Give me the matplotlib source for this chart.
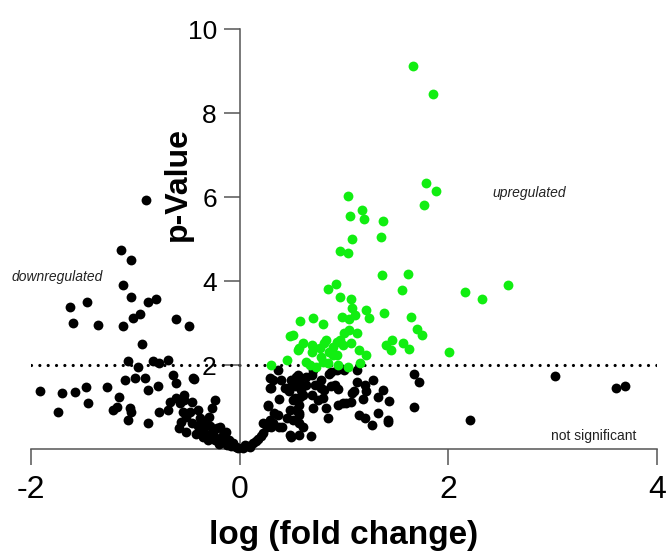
import matplotlib
matplotlib.use('Agg')
import matplotlib.pyplot as plt

plt.rcParams['font.family'] = ['Liberation Sans', 'DejaVu Sans']

# significant, up (green)
up_x = [1.66, 1.85, 1.79, 1.88, 1.77, 2.16, 2.32, 2.57, 2.01,
        1.04, 1.06, 1.17, 1.19, 1.37, 1.35, 1.08, 0.96, 1.04, 1.36, 1.61, 1.56,
        0.92, 0.85, 0.96, 1.07, 1.08, 1.11, 0.98, 1.05, 1.21, 1.24, 1.38, 1.64,
        1.70, 1.75, 0.58, 0.70, 0.80, 0.51, 0.48, 0.61, 0.70, 0.81, 0.96, 1.00,
        1.05, 1.12, 0.99, 1.07, 0.86, 0.93, 0.78, 0.56, 0.45, 1.14, 1.21, 1.40,
        1.46, 1.45, 1.57, 1.62, 0.30,
        0.64, 0.67, 0.73, 0.80, 0.85, 0.94, 1.04, 1.15, 0.89, 0.69, 0.77,
        0.89, 0.93, 0.83, 0.57, 0.69]
up_y = [9.11, 8.46, 6.33, 6.15, 5.80, 3.75, 3.58, 3.91, 2.30,
        6.03, 5.54, 5.68, 5.48, 5.44, 5.05, 5.01, 4.72, 4.66, 4.14, 4.16, 3.79,
        3.93, 3.81, 3.62, 3.57, 3.35, 3.19, 3.15, 3.09, 3.30, 3.11, 3.23, 3.14,
        2.85, 2.72, 3.06, 3.11, 2.97, 2.72, 2.68, 2.53, 2.44, 2.52, 2.60, 2.76,
        2.84, 2.76, 2.48, 2.53, 2.32, 2.24, 2.20, 2.36, 2.12, 2.36, 2.24, 2.48,
        2.60, 2.36, 2.52, 2.37, 2.00,
        2.08, 2.00, 1.96, 2.08, 2.04, 2.00, 1.96, 2.04, 2.24, 2.48, 2.40,
        2.44, 2.55, 2.60, 2.40, 2.30]

# down-regulated side and not significant (black)
other_x = [-0.90, -1.14, -1.04, -1.12, -1.04, -0.88, -0.80, -1.63, -1.46, -1.60,
           -1.36, -1.12, -1.02, -0.96, -0.61, -0.49, -0.94, -1.07, -0.97, -0.83,
           -0.77, -0.69, -1.10, -1.00, -0.91, -0.88, -0.78, -0.64, -0.61, -0.44,
           -1.91, -1.70, -1.58, -1.47, -1.27, -1.45, -1.74, -1.16, -1.18, -1.21,
           -1.05, -1.04, -1.07, -0.88, -0.77, -0.67, -0.69, -0.61, -0.53, -0.24,
           -0.45, -0.53, -0.57, -0.46, -0.27, -0.40, -0.48, -0.54, -0.51, -0.29,
           -0.56, -0.46, -0.58, -0.51, -0.35, -0.32, -0.27, -0.22, -0.19, -0.13,
           -0.35, -0.30, -0.24, -0.19, -0.14, -0.10, -0.06, -0.02, 0.03, 0.08,
           0.13, 0.18, 0.22, 0.26, 0.29, 0.27, 0.30, 0.29,
           -0.40, -0.42, -0.28, -0.16, -0.08, -0.12, -0.20, -0.04, 0.05, 0.10,
           -0.25, -0.33, -0.38, 0.16, 0.20,
           0.37, 0.29, 0.27, 0.40, 0.43, 0.38, 0.49, 0.54, 0.57, 0.53,
           0.47, 0.51, 0.54, 0.59, 0.58, 0.57, 0.69, 0.72, 0.69, 0.78,
           0.75, 0.81, 0.83, 0.85, 0.86, 0.91, 0.94, 0.94, 1.00, 1.02,
           1.12, 1.12, 1.10, 1.07, 1.18, 1.20, 1.14, 1.20, 1.28, 1.37,
           1.33, 1.43, 1.33, 1.27, 1.42, 1.67, 1.72, 1.67, 0.49, 0.57,
           0.68, 0.41, 0.32, 0.22, 0.45, 0.37, 0.61, 0.57, 0.48, 0.93,
           0.70, 0.64, 0.88, 0.96, 1.21, 1.08, 0.99, 0.70, 0.80, 0.88,
           0.78, 0.56, 0.46, 0.32, 0.33, 0.30, 0.38, 0.48, 0.57, 0.57,
           0.53, 0.61, 0.64, 0.51,
           3.02, 3.61, 3.69, 2.21, 1.42]
other_y = [5.92, 4.74, 4.51, 3.91, 3.61, 3.51, 3.57, 3.39, 3.49, 3.00,
           2.96, 2.92, 3.12, 3.22, 3.09, 2.92, 2.50, 2.10, 1.96, 2.10,
           2.06, 2.12, 1.64, 1.68, 1.68, 1.41, 1.49, 1.76, 1.57, 1.66,
           1.39, 1.33, 1.35, 1.47, 1.47, 1.09, 0.87, 1.23, 1.01, 0.93,
           0.97, 0.87, 0.69, 0.63, 0.87, 1.13, 0.93, 1.21, 1.17, 1.17,
           1.68, 1.29, 1.09, 1.13, 0.97, 0.93, 0.89, 0.89, 0.77, 0.77,
           0.65, 0.61, 0.49, 0.41, 0.45, 0.33, 0.37, 0.49, 0.53, 0.41,
           0.29, 0.21, 0.21, 0.25, 0.17, 0.21, 0.14, 0.02, 0.02, 0.07,
           0.14, 0.25, 0.37, 0.53, 0.69, 1.05, 1.45, 1.68,
           0.55, 0.35, 0.55, 0.33, 0.08, 0.10, 0.12, 0.05, 0.10, 0.05,
           0.30, 0.62, 0.75, 0.20, 0.30,
           1.88, 1.45, 1.02, 1.64, 1.45, 1.18, 1.64, 1.71, 1.60, 1.50,
           1.37, 1.17, 0.93, 1.41, 1.25, 0.81, 1.76, 1.53, 1.29, 1.64,
           1.17, 1.41, 0.97, 0.73, 1.79, 1.53, 1.42, 1.05, 1.88, 1.09,
           1.88, 1.60, 1.37, 1.13, 1.18, 1.53, 0.81, 0.73, 1.64, 1.41,
           1.25, 1.15, 0.85, 0.57, 0.69, 1.79, 1.60, 0.99, 0.29, 0.33,
           0.31, 0.53, 0.61, 0.61, 0.73, 0.81, 0.53, 0.61, 0.93, 1.88,
           1.88, 1.72, 1.84, 1.92, 1.37, 1.33, 1.09, 0.97, 1.21, 1.49,
           1.45, 1.76, 1.45, 1.64, 0.85, 0.53, 0.53, 0.33, 1.05, 0.85,
           1.21, 1.29, 1.53, 0.69,
           1.75, 1.45, 1.49, 0.68, 0.64]

threshold = 2
xticks = [-2, 0, 2, 4]
yticks = [2, 4, 6, 8, 10]

fig = plt.figure(figsize=(6.7, 5.56), dpi=100)
ax = fig.add_axes([0.0463, 0.1924, 0.9343, 0.7554])

ax.scatter(other_x, other_y, s=50, color='black', linewidths=0, clip_on=False, zorder=3)
ax.scatter(up_x, up_y, s=50, color='#11ee11', linewidths=0, clip_on=False, zorder=3)

ax.axhline(threshold, color='black', linewidth=2.3, linestyle=(0, (0.01, 2.6)),
           dash_capstyle='round', zorder=2)

ax.set_xlim(-2, 4)
ax.set_ylim(0, 10)
ax.spines['left'].set_position(('data', 0))
ax.spines['bottom'].set_position(('data', 0))
ax.spines['top'].set_visible(False)
ax.spines['right'].set_visible(False)
for sp in ['left', 'bottom']:
    ax.spines[sp].set_color('#555555')
    ax.spines[sp].set_linewidth(1.1)

ax.set_xticks(xticks)
ax.set_xticklabels(['-2', '0', '2', '4'])
ax.set_yticks(yticks)
ax.tick_params(axis='both', length=11.5, width=1.1, color='#555555',
               labelcolor='black')
ax.tick_params(axis='y', pad=5, labelsize=19)
ax.tick_params(axis='x', pad=7, labelsize=23)

ax.set_xlabel('log (fold change)', fontsize=24, fontweight='bold', labelpad=11)
ax.set_ylabel('p-Value', fontsize=23, fontweight='bold')
ax.yaxis.set_label_coords(0.259, 0.631)

ax.text(-1.75, 4.1, 'downregulated', fontsize=10, style='italic',
        ha='center', va='center', color='#222222')
ax.text(2.78, 6.1, 'upregulated', fontsize=10, style='italic',
        ha='center', va='center', color='#222222')
ax.text(3.39, 0.31, 'not significant', fontsize=10,
        ha='center', va='center', color='#222222')

fig.savefig('out.png', dpi=100)
